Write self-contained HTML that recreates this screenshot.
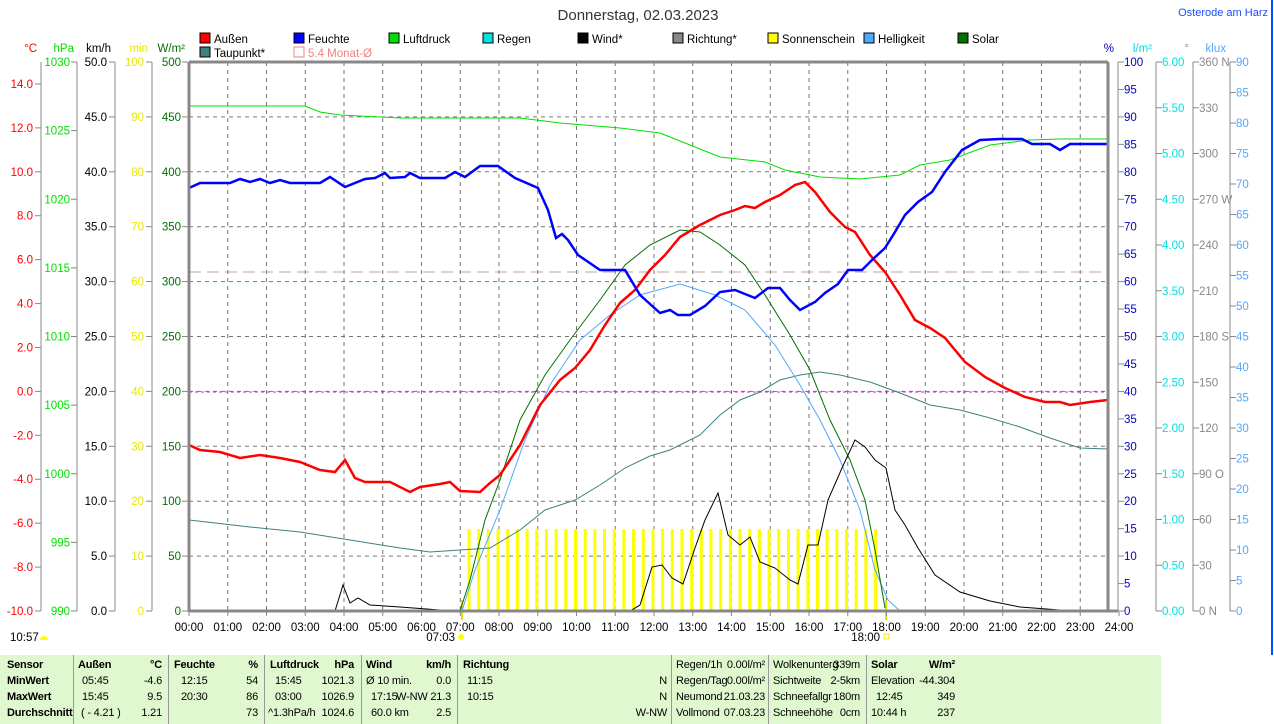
<!DOCTYPE html>
<html><head><meta charset="utf-8"><style>
body{margin:0;background:#fff;width:1274px;height:724px;overflow:hidden;font-family:"Liberation Sans",sans-serif}
svg{position:absolute;left:0;top:0}
#tb{position:absolute;left:0;top:655px;width:1161px;height:69px;background:#e0f8d0;font-size:11px;letter-spacing:-0.2px}
#tb div{position:absolute;white-space:nowrap}
.b{font-weight:bold}
.s{position:absolute;top:0;width:1px;height:69px;background:#999}
</style></head><body>
<svg id="g" width="1274" height="655" font-family="Liberation Sans, sans-serif" font-size="11.5"></svg>
<div id="tb"></div>
<script>
const S=document.getElementById('g');let h='';
const X0=189,X1=1118,Y0=611,Y1=62;
function t(x,y,s,c,a,extra){h+=`<text x="${x}" y="${y}" fill="${c}" text-anchor="${a||'start'}" ${extra||''}>${s}</text>`}
function l(x1,y1,x2,y2,c,w,d){h+=`<line x1="${x1}" y1="${y1}" x2="${x2}" y2="${y2}" stroke="${c}" stroke-width="${w||1}" ${d?`stroke-dasharray="${d}"`:''}/>`}
function p(pts,c,w){h+=`<polyline fill="none" stroke="${c}" stroke-width="${w||1}" points="${pts}"/>`}
t(638,20,'Donnerstag, 02.03.2023','#333','middle','font-size="15"');
t(1268,16,'Osterode am Harz','#1a4cff','end','font-size="11"');
l(1272,0,1272,655,'#0050ff',2);
for(let i=1;i<10;i++){let y=Y0-i*54.9;l(X0,y,1108,y,'#777',1,'4,4')}
for(let i=1;i<24;i++){let x=X0+i*38.75;l(x,Y1,x,Y0,'#777',1,'4,4')}
for(let i=0;i<43;i++){let x=469+i*9.68;h+=`<rect x="${x-1.5}" y="529" width="3" height="82" fill="#ffff00"/>`}
l(462,600,462,620,'#e0e000',2);l(886,600,886,620,'#e0e000',2);
l(X0,392,1108,392,'#ff00ff',1,'3,3');
l(X0,272,1108,272,'#c0a0a0',1,'12,6');
p('189,106 305,106 320,112 340,115 400,118 520,118 560,123 620,128 660,133 690,145 720,157 765,162 785,170 820,177 860,179 900,175 920,165 950,160 990,145 1030,140 1060,139 1108,139','#00e000');
p('189,520 250,527 300,532 350,540 400,548 430,552 460,550 490,548 520,530 545,510 575,500 600,485 625,468 650,456 670,450 700,435 720,415 740,400 760,392 780,380 800,375 820,372 840,375 870,382 900,393 930,405 960,410 990,418 1020,427 1050,438 1080,448 1108,449','#408080');
p('462,611 475,570 500,510 525,440 550,385 580,340 610,315 640,295 680,284 715,295 745,310 775,345 800,385 820,420 840,460 860,510 875,570 888,600 900,611','#50a8ff');
p('460,611 470,580 485,520 500,480 520,420 545,375 570,340 600,300 625,265 650,245 680,230 700,232 720,245 745,265 765,295 790,335 810,370 830,420 850,460 865,500 875,550 885,608','#007000');
p('189,611 260,610 300,611 335,611 343,585 350,603 358,598 370,605 400,607 440,610 470,611 630,611 640,605 652,567 662,565 672,578 683,584 695,548 705,520 718,493 728,535 740,545 750,537 760,562 775,568 790,580 798,584 808,545 818,545 828,500 842,468 855,440 865,447 875,460 886,468 895,510 905,525 918,548 935,575 960,592 990,601 1020,607 1060,610 1100,611','#000');
p('189,445 200,450 220,452 240,458 260,455 280,458 300,462 320,470 335,472 345,460 355,478 365,482 390,482 410,492 420,487 440,484 450,482 460,491 480,492 490,483 500,475 520,445 540,405 560,380 575,368 590,350 605,325 620,303 635,290 650,270 665,255 680,237 700,225 720,215 735,210 745,206 755,208 765,202 780,195 795,185 805,182 815,192 830,212 845,227 855,232 870,255 885,272 900,295 915,320 930,328 945,338 965,362 985,377 1005,388 1025,397 1045,402 1060,402 1070,405 1090,402 1108,400','#ff0000',2.5);
p('189,188 200,183 230,183 240,179 250,182 260,179 270,183 280,180 290,183 320,183 330,177 345,187 365,179 375,178 385,173 390,178 405,177 410,173 420,178 445,178 455,172 465,177 480,166 498,166 515,178 538,188 548,210 556,238 562,234 568,240 578,255 600,270 625,270 640,295 660,313 670,310 678,315 690,315 705,306 720,292 735,290 755,298 768,288 780,288 790,300 800,310 815,302 825,293 838,284 848,270 862,270 872,260 885,248 895,232 905,215 918,202 932,192 945,172 962,150 980,140 1000,139 1022,139 1032,144 1050,144 1060,150 1070,144 1108,144','#0000ff',2.5);
l(X0,Y1,X0,Y0+1,'#888',3);l(X0,Y1,1108,Y1,'#888',3);l(X0,Y0,1118,Y0,'#888',3);l(1108,Y1,1108,Y0,'#888',3);
const LA=[[41,34,'°C','#ff0000',-10,15,2,1,x=>x>14?null:x.toFixed(1)],[77,71,'hPa','#00e000',990,1030,5,0],[115,108,'km/h','#000',0,50,5,1],[152,145,'min','#e8e800',0,100,10,0],[188,182,'W/m²','#007000',0,500,50,0]];
LA.forEach(([ax,lx,u,c,a,b,st,dec,fm])=>{l(ax,Y1,ax,Y0,'#888');t(lx+3,52,u,c,'end');
 for(let v=a;v<=b+1e-9;v+=st){let y=Y0-(v-a)/(b-a)*549;let s=fm?fm(v):v.toFixed(dec);if(s===null)continue;l(ax-6,y,ax,y,'#888');t(lx-1,y+4,s,c,'end')}});
const RA=[[1118,'%','#0000c0',0,100,5,0],[1156,'l/m²','#00e0e0',0,6,.5,2],[1193,'°','#888',0,360,30,0],[1230,'klux','#50a8ff',0,90,5,0]];
const dirs={360:' N',270:' W',180:' S',90:' O',0:' N'};
RA.forEach(([ax,u,c,a,b,st,dec])=>{l(ax,Y1,ax,Y0,'#888');t(ax-4,52,u,c,'end');
 for(let v=a;v<=b+1e-9;v+=st){let y=Y0-(v-a)/(b-a)*549;l(ax,y,ax+6,y,'#888');let s=v.toFixed(dec);if(u=='°'&&dirs[v])s+=dirs[v];t(ax+6,y+4,s,c)}});
for(let i=0;i<=24;i++){let x=X0+i*38.75;l(x,Y0,x,Y0+5,'#888');t(x,631,(i<10?'0':'')+i+':00','#000','middle')}
t(455,641,'07:03','#000','end');h+=`<circle cx="461" cy="637" r="3" fill="#ff0"/>`;
t(880,641,'18:00','#000','end');h+=`<rect x="884" y="634" width="5" height="5" fill="none" stroke="#ee0"/>`;
t(10,641,'10:57','#000');h+=`<path d="M40 640 a4 4 0 0 1 8 0z" fill="#ff0"/>`;
const LG=[[200,38,'#ff0000','Außen'],[294,38,'#0000ff','Feuchte'],[389,38,'#00e000','Luftdruck'],[483,38,'#00e0e0','Regen'],[578,38,'#000','Wind*'],[673,38,'#888','Richtung*'],[768,38,'#ffff00','Sonnenschein'],[864,38,'#50a8ff','Helligkeit'],[958,38,'#007000','Solar'],[200,52,'#408080','Taupunkt*']];
LG.forEach(([x,y,c,s])=>{h+=`<rect x="${x}" y="${y-5}" width="10" height="10" fill="${c}" stroke="#000"/>`;t(x+14,y+5,s,'#000')});
h+=`<rect x="294" y="47" width="10" height="10" fill="none" stroke="#f08080"/>`;t(308,57,'5.4 Monat-Ø','#f08080');
S.innerHTML=h;
let th='';const R=[11,27,43,59];
function c(x,r,s,b,a){th+=`<div class="${b?'b':''}" style="${a?'right:'+(1161-x)+'px':'left:'+x+'px'};top:${R[r]-7}px">${s}</div>`}
[73,168,264,361,457,671,768,866].forEach(x=>th+=`<div class="s" style="left:${x}px"></div>`);
['Sensor','MinWert','MaxWert','Durchschnitt'].forEach((s,i)=>c(7,i,s,1));
c(78,0,'Außen',1);c(162,0,'°C',1,1);c(82,1,'05:45');c(162,1,'-4.6',0,1);c(82,2,'15:45');c(162,2,'9.5',0,1);c(81,3,'( - 4.21 )');c(162,3,'1.21',0,1);
c(174,0,'Feuchte',1);c(258,0,'%',1,1);c(181,1,'12:15');c(258,1,'54',0,1);c(181,2,'20:30');c(258,2,'86',0,1);c(258,3,'73',0,1);
c(270,0,'Luftdruck',1);c(354,0,'hPa',1,1);c(275,1,'15:45');c(354,1,'1021.3',0,1);c(275,2,'03:00');c(354,2,'1026.9',0,1);c(268,3,'^1.3hPa/h');c(354,3,'1024.6',0,1);
c(366,0,'Wind',1);c(451,0,'km/h',1,1);c(366,1,'Ø 10 min.');c(451,1,'0.0',0,1);c(371,2,'17:15');c(451,2,'W-NW 21.3',0,1);c(371,3,'60.0 km');c(451,3,'2.5',0,1);
c(463,0,'Richtung',1);c(467,1,'11:15');c(667,1,'N',0,1);c(467,2,'10:15');c(667,2,'N',0,1);c(667,3,'W-NW',0,1);
c(676,0,'Regen/1h');c(765,0,'0.00l/m²',0,1);c(676,1,'Regen/Tag');c(765,1,'0.00l/m²',0,1);c(676,2,'Neumond');c(765,2,'21.03.23',0,1);c(676,3,'Vollmond');c(765,3,'07.03.23',0,1);
c(773,0,'Wolkenunterg');c(860,0,'339m',0,1);c(773,1,'Sichtweite');c(860,1,'2-5km',0,1);c(773,2,'Schneefallgr');c(860,2,'180m',0,1);c(773,3,'Schneehöhe');c(860,3,'0cm',0,1);
c(871,0,'Solar',1);c(955,0,'W/m²',1,1);c(871,1,'Elevation');c(955,1,'-44.304',0,1);c(876,2,'12:45');c(955,2,'349',0,1);c(871,3,'10:44 h');c(955,3,'237',0,1);
document.getElementById('tb').innerHTML=th;
</script>
</body></html>
